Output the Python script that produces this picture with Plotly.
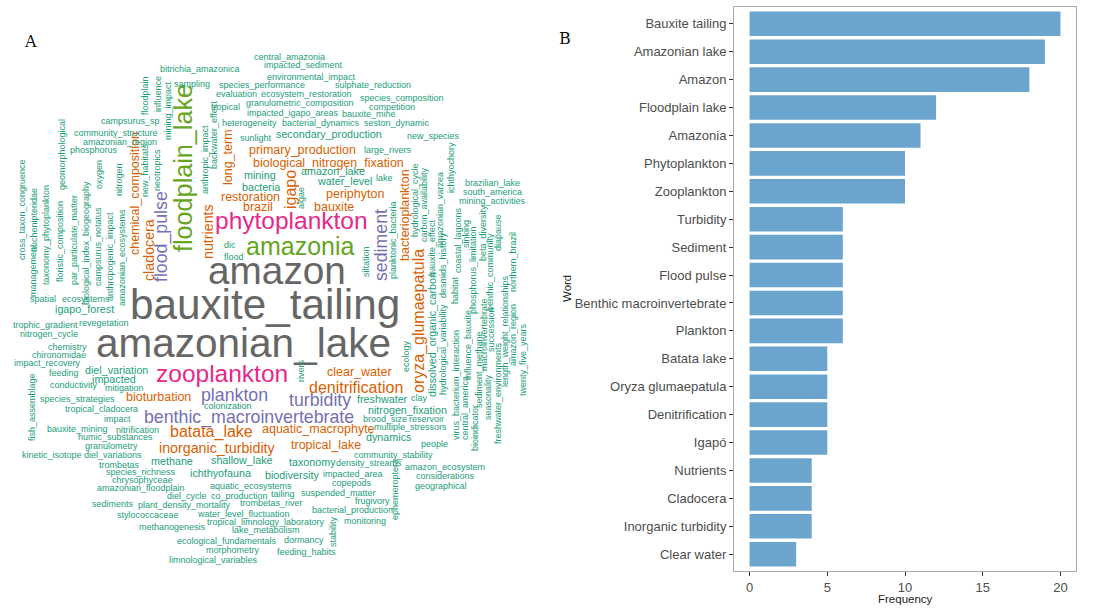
import plotly.graph_objects as go

# ---------------- Panel B: keyword frequencies ----------------
bar_words = ["Bauxite tailing", "Amazonian lake", "Amazon", "Floodplain lake", "Amazonia",
             "Phytoplankton", "Zooplankton", "Turbidity", "Sediment", "Flood pulse",
             "Benthic macroinvertebrate", "Plankton", "Batata lake", "Oryza glumaepatula",
             "Denitrification", "Igapó", "Nutrients", "Cladocera", "Inorganic turbidity",
             "Clear water"]
bar_freq = [20, 19, 18, 12, 11, 10, 10, 6, 6, 6, 6, 6, 5, 5, 5, 5, 4, 4, 4, 3]
freq_ticks = [0, 5, 10, 15, 20]

# ---------------- Panel A: word cloud terms grouped by frequency ----------------
words_by_freq = {
    20: ["bauxite_tailing"],
    19: ["amazonian_lake"],
    18: ["amazon"],
    12: ["floodplain_lake"],
    11: ["amazonia"],
    10: ["phytoplankton", "zooplankton"],
    6: ["turbidity", "sediment", "flood_pulse", "benthic_macroinvertebrate", "plankton"],
    5: ["batata_lake", "oryza_glumaepatula", "denitrification", "igapo"],
    4: ["nutrients", "cladocera", "inorganic_turbidity"],
    3: ["clear_water", "primary_production", "biological_nitrogen_fixation", "long_term",
        "restoration", "brazil", "periphyton", "bauxite", "chemical_composition",
        "bacterioplankton", "bioturbation", "aquatic_macrophyte", "tropical_lake"],
    2: ["secondary_production", "amazon_lake", "water_level", "mining", "bacteria",
        "igapo_forest", "ichthyofauna", "biodiversity", "taxonomy", "methane",
        "shallow_lake", "freshwater", "nitrogen_fixation", "dynamics", "diel_variation",
        "impacted", "dissolved_organic_carbon"],
    1: ["central_amazonia", "impacted_sediment", "bitrichia_amazonica", "environmental_impact",
        "sampling", "species_performance", "sulphate_reduction", "evaluation",
        "ecosystem_restoration", "species_composition", "tropical", "granulometric_composition",
        "competition", "impacted_igapo_areas", "bauxite_mine", "heterogeneity",
        "bacterial_dynamics", "seston_dynamic", "sunlight", "new_species", "large_rivers",
        "lake", "floodplain", "influence", "mining_impact", "campsurus_sp",
        "community_structure", "amazonian_region", "phosphorus", "anthropic_impact",
        "backwater_effect", "new_habitats", "neotropics", "oxygen", "nitrogen",
        "geomorphological", "taxonomy_phytoplankton", "floristic_composition",
        "par_particulate_matter", "biological_index_biogeography", "campsurus_notatus",
        "anthropogenic_impact", "amazonian_ecosystems", "auchenipteridae", "management",
        "cross_taxon_congruence", "spatial", "ecosystems", "trophic_gradient", "revegetation",
        "nitrogen_cycle", "chemistry", "chironomidae", "impact_recovery", "feeding",
        "conductivity", "mitigation", "species_strategies", "tropical_cladocera",
        "fish_assemblage", "impact", "colonization", "bauxite_mining", "nitrification",
        "humic_substances", "granulometry", "kinetic_isotope", "diel_variations", "trombetas",
        "species_richness", "chrysophyceae", "amazonian_floodplain", "aquatic_ecosystems",
        "density_streams", "community_stability", "impacted_area", "copepods", "diel_cycle",
        "co_production", "tailing", "suspended_matter", "frugivory", "sediments",
        "plant_density_mortality", "trombetas_river", "bacterial_production", "stylococcaceae",
        "water_level_fluctuation", "monitoring", "stability", "methanogenesis",
        "tropical_limnology_laboratory", "lake_metabolism", "ecological_fundamentals",
        "dormancy", "morphometry", "feeding_habits", "limnological_variables",
        "ephemeroptera", "amazon_ecosystem", "considerations", "geographical", "people",
        "multiple_stressors", "brood_size", "reservoir", "clay", "ecology", "rivers",
        "siltation", "planktonic_bacteria", "algae", "dic", "flood", "hydrological_cycle",
        "carbon_availability", "bauxite_effect", "amazonian_varzea", "ichthyochory",
        "brazilian_lake", "south_america", "mining_activities", "desmids_history",
        "coastal_lagoons", "sinking", "phosphorus_limitation", "beta_diversity",
        "benthic_community", "diapause", "northern_brazil", "habitat",
        "hydrological_variability", "virus_bacterium_interaction", "central_america",
        "influence_bauxite", "bioindicator", "sediment_methane", "macroinvertebrate",
        "seasonality", "succession", "freshwater_environments", "length_weight_relationships",
        "amazon_region", "twenty_five_years"],
}

# Cloud placement: (x, y, rotation) in panel-A pixel space, rotation 90 = reads upward
cloud_layout = {
    "bauxite_tailing": (265, 304, 0), "amazonian_lake": (243, 343, 0), "amazon": (277, 270, 0),
    "floodplain_lake": (183, 168, 90), "amazonia": (300, 246, 0),
    "phytoplankton": (291, 220, 0), "zooplankton": (222, 373, 0),
    "turbidity": (320, 400, 0), "sediment": (381, 245, 90), "flood_pulse": (161, 237, 90),
    "benthic_macroinvertebrate": (249, 417, 0), "plankton": (234, 395, 0),
    "batata_lake": (211, 432, 0), "oryza_glumaepatula": (419, 321, 90),
    "denitrification": (356, 387, 0), "igapo": (290, 190, 90),
    "nutrients": (208, 232, 90), "cladocera": (149, 250, 90), "inorganic_turbidity": (217, 448, 0),
    "clear_water": (359, 372, 0), "primary_production": (302, 150, 0),
    "biological_nitrogen_fixation": (328, 163, 0), "long_term": (228, 157, 90),
    "restoration": (250, 197, 0), "brazil": (258, 207, 0), "periphyton": (355, 194, 0),
    "bauxite": (334, 207, 0), "chemical_composition": (135, 194, 90),
    "bacterioplankton": (405, 215, 90), "bioturbation": (158, 397, 0),
    "aquatic_macrophyte": (318, 429, 0), "tropical_lake": (326, 445, 0),
    "secondary_production": (329, 134, 0), "amazon_lake": (333, 171, 0),
    "water_level": (344, 181, 0), "mining": (260, 175, 0), "bacteria": (261, 187, 0),
    "igapo_forest": (84, 309, 0), "ichthyofauna": (220, 473, 0), "biodiversity": (292, 475, 0),
    "taxonomy": (312, 462, 0), "methane": (172, 461, 0), "shallow_lake": (242, 460, 0),
    "freshwater": (382, 399, 0), "nitrogen_fixation": (407, 410, 0), "dynamics": (388, 437, 0),
    "diel_variation": (116, 370, 0), "impacted": (114, 379, 0),
    "dissolved_organic_carbon": (432, 335, 90),
    "central_amazonia": (289, 57, 0), "impacted_sediment": (303, 65, 0),
    "bitrichia_amazonica": (200, 69, 0), "environmental_impact": (311, 77, 0),
    "sampling": (192, 84, 0), "species_performance": (262, 85, 0),
    "sulphate_reduction": (373, 85, 0), "evaluation": (236, 94, 0),
    "ecosystem_restoration": (306, 94, 0), "species_composition": (402, 98, 0),
    "tropical": (225, 107, 0), "granulometric_composition": (300, 103, 0),
    "competition": (392, 107, 0), "impacted_igapo_areas": (293, 113, 0),
    "bauxite_mine": (369, 114, 0), "heterogeneity": (249, 123, 0),
    "bacterial_dynamics": (321, 123, 0), "seston_dynamic": (397, 123, 0),
    "sunlight": (256, 138, 0), "new_species": (433, 136, 0), "large_rivers": (388, 150, 0),
    "lake": (384, 178, 0), "floodplain": (145, 96, 90), "influence": (158, 94, 90),
    "mining_impact": (168, 111, 90), "campsurus_sp": (130, 121, 0),
    "community_structure": (116, 133, 0), "amazonian_region": (120, 142, 0),
    "phosphorus": (94, 150, 0), "anthropic_impact": (205, 160, 90),
    "backwater_effect": (214, 135, 90), "new_habitats": (145, 170, 90),
    "neotropics": (157, 170, 90), "oxygen": (99, 175, 90), "nitrogen": (119, 180, 90),
    "geomorphological": (62, 155, 90), "taxonomy_phytoplankton": (46, 235, 90),
    "floristic_composition": (60, 242, 90), "par_particulate_matter": (74, 240, 90),
    "biological_index_biogeography": (86, 243, 90), "campsurus_notatus": (98, 247, 90),
    "anthropogenic_impact": (110, 257, 90), "amazonian_ecosystems": (122, 258, 90),
    "auchenipteridae": (34, 220, 90), "management": (33, 271, 90),
    "cross_taxon_congruence": (22, 210, 90), "spatial": (43, 299, 0),
    "ecosystems": (86, 299, 0), "trophic_gradient": (45, 325, 0), "revegetation": (104, 323, 0),
    "nitrogen_cycle": (49, 334, 0), "chemistry": (67, 347, 0), "chironomidae": (59, 355, 0),
    "impact_recovery": (47, 363, 0), "feeding": (64, 373, 0), "conductivity": (74, 385, 0),
    "mitigation": (124, 388, 0), "species_strategies": (77, 399, 0),
    "tropical_cladocera": (101, 409, 0), "fish_assemblage": (32, 407, 90),
    "impact": (117, 419, 0), "colonization": (228, 406, 0), "bauxite_mining": (77, 429, 0),
    "nitrification": (137, 430, 0), "humic_substances": (115, 437, 0),
    "granulometry": (111, 446, 0), "kinetic_isotope": (52, 455, 0),
    "diel_variations": (113, 455, 0), "trombetas": (119, 465, 0),
    "species_richness": (141, 472, 0), "chrysophyceae": (142, 480, 0),
    "amazonian_floodplain": (141, 488, 0), "aquatic_ecosystems": (251, 486, 0),
    "density_streams": (369, 463, 0), "community_stability": (393, 455, 0),
    "impacted_area": (353, 474, 0), "copepods": (352, 483, 0), "diel_cycle": (187, 496, 0),
    "co_production": (239, 496, 0), "tailing": (283, 494, 0), "suspended_matter": (338, 493, 0),
    "frugivory": (372, 501, 0), "sediments": (113, 504, 0),
    "plant_density_mortality": (184, 505, 0), "trombetas_river": (271, 503, 0),
    "bacterial_production": (352, 510, 0), "stylococcaceae": (148, 515, 0),
    "water_level_fluctuation": (243, 514, 0), "monitoring": (365, 521, 0),
    "stability": (333, 532, 90), "methanogenesis": (172, 527, 0),
    "tropical_limnology_laboratory": (266, 522, 0), "lake_metabolism": (266, 530, 0),
    "ecological_fundamentals": (227, 541, 0), "dormancy": (304, 540, 0),
    "morphometry": (233, 550, 0), "feeding_habits": (306, 552, 0),
    "limnological_variables": (213, 560, 0), "ephemeroptera": (395, 490, 90),
    "amazon_ecosystem": (445, 467, 0), "considerations": (445, 476, 0),
    "geographical": (441, 486, 0), "people": (434, 444, 0),
    "multiple_stressors": (410, 427, 0), "brood_size": (385, 419, 0),
    "reservoir": (426, 419, 0), "clay": (419, 398, 0), "ecology": (406, 356, 90),
    "rivers": (301, 371, 90), "siltation": (366, 262, 90), "planktonic_bacteria": (393, 240, 90),
    "algae": (301, 198, 90), "dic": (230, 245, 0), "flood": (234, 257, 0),
    "hydrological_cycle": (415, 200, 90), "carbon_availability": (424, 205, 90),
    "bauxite_effect": (432, 248, 90), "amazonian_varzea": (440, 210, 90),
    "ichthyochory": (451, 168, 90), "brazilian_lake": (492, 183, 0),
    "south_america": (492, 192, 0), "mining_activities": (492, 201, 0),
    "desmids_history": (443, 265, 90), "coastal_lagoons": (458, 240, 90),
    "sinking": (466, 234, 90), "phosphorus_limitation": (473, 270, 90),
    "beta_diversity": (483, 233, 90), "benthic_community": (490, 272, 90),
    "diapause": (498, 233, 90), "northern_brazil": (513, 262, 90), "habitat": (455, 290, 90),
    "hydrological_variability": (443, 350, 90), "virus_bacterium_interaction": (456, 385, 90),
    "central_america": (465, 408, 90), "influence_bauxite": (468, 345, 90),
    "bioindicator": (475, 428, 90), "sediment_methane": (479, 370, 90),
    "macroinvertebrate": (484, 335, 90), "seasonality": (488, 397, 90),
    "succession": (491, 330, 90), "freshwater_environments": (498, 393, 90),
    "length_weight_relationships": (505, 331, 90), "amazon_region": (513, 335, 90),
    "twenty_five_years": (523, 360, 90),
}

# font size (px) used for each frequency level
FONT_SIZE = {20: 42.25, 19: 40.5, 18: 38.75, 12: 25.2, 11: 25.0, 10: 24.5, 6: 17.75,
             5: 16.0, 4: 14.25, 3: 12.5, 2: 10.75, 1: 9.0}


# Dark2 colour classes by frequency
def word_color(f):
    if f >= 18:
        return "#666666"
    if f >= 11:
        return "#66A61E"
    if f >= 10:
        return "#E7298A"
    if f >= 6:
        return "#7570B3"
    if f >= 3:
        return "#D95F02"
    return "#1B9E77"


W, H = 1110, 612
PANEL_A_W = 560
SANS = "Liberation Sans, Arial, sans-serif"

fig = go.Figure()

fig.add_trace(go.Bar(
    x=bar_freq, y=bar_words, orientation="h",
    marker=dict(color="#6BA5CD", line=dict(width=0)),
    width=0.88, showlegend=False, hoverinfo="x+y",
))

annotations = []
for f, words in words_by_freq.items():
    for w in words:
        x, y, rot = cloud_layout[w]
        annotations.append(dict(
            x=x, y=y, xref="x2", yref="y2", text=w, showarrow=False,
            xanchor="center", yanchor="middle", textangle=-rot, borderpad=0,
            font=dict(family=SANS, size=FONT_SIZE[f], color=word_color(f)),
        ))

# panel letters
annotations.append(dict(x=30 / W, y=1 - 42 / H, xref="paper", yref="paper", text="A",
                        showarrow=False, xanchor="center", yanchor="middle",
                        font=dict(family="DejaVu Serif, serif", size=16, color="#111111")))
annotations.append(dict(x=565 / W, y=1 - 38 / H, xref="paper", yref="paper", text="B",
                        showarrow=False, xanchor="center", yanchor="middle",
                        font=dict(family="DejaVu Serif, serif", size=16, color="#111111")))
# axis titles of panel B
annotations.append(dict(x=567 / W, y=1 - 289 / H, xref="paper", yref="paper", text="Word",
                        showarrow=False, textangle=-90, xanchor="center", yanchor="middle",
                        font=dict(family=SANS, size=11.5, color="#222222")))
annotations.append(dict(x=905 / W, y=1 - 599 / H, xref="paper", yref="paper", text="Frequency",
                        showarrow=False, xanchor="center", yanchor="middle",
                        font=dict(family=SANS, size=11.5, color="#222222")))

axis_font = dict(family=SANS, size=13, color="#4d4d4d")

fig.update_layout(
    width=W, height=H,
    margin=dict(l=0, r=0, t=0, b=0),
    paper_bgcolor="white", plot_bgcolor="white",
    annotations=annotations,
    xaxis=dict(domain=[734 / W, 1076 / W], range=[-1, 21], tickvals=freq_ticks,
               ticks="outside", ticklen=4, tickcolor="#333333", tickfont=axis_font,
               showgrid=False, zeroline=False, showline=True, mirror=True,
               linecolor="#aaaaaa", linewidth=1),
    yaxis=dict(domain=[1 - 571 / H, 1 - 7 / H], categoryorder="array", categoryarray=bar_words,
               range=[19.6, -0.6], ticks="outside", ticklen=4, tickcolor="#333333",
               tickfont=axis_font, showgrid=False, zeroline=False, showline=True, mirror=True,
               linecolor="#aaaaaa", linewidth=1),
    xaxis2=dict(domain=[0, PANEL_A_W / W], range=[0, PANEL_A_W], visible=False, anchor="y2"),
    yaxis2=dict(domain=[0, 1], range=[H, 0], visible=False, anchor="x2"),
)

fig.write_html("out.html")
